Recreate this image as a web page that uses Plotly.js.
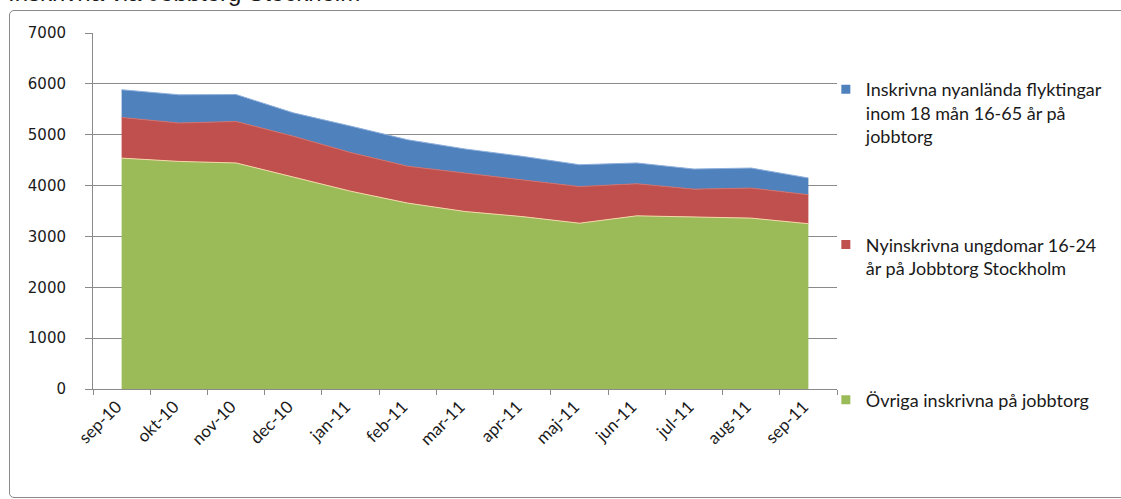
<!DOCTYPE html>
<html>
<head>
<meta charset="utf-8">
<script src="https://cdn.plot.ly/plotly-3.0.1.min.js"></script>
<style>
  html, body { margin: 0; padding: 0; background: #ffffff; }
  #wrap { position: relative; width: 1121px; height: 499px; overflow: hidden; }
  #chart { position: absolute; left: 0; top: 0; width: 1121px; height: 499px; }
  #frame { position: absolute; left: 9px; top: 10px; width: 1140px; height: 488px;
           border: 1px solid #8a8a8a; border-radius: 5px; pointer-events: none; box-sizing: border-box; }
</style>
</head>
<body>
<div id="wrap">
  <div id="chart"></div>
  <div id="frame"></div>
</div>
<script>
// ---- data ----
const months = ["sep-10","okt-10","nov-10","dec-10","jan-11","feb-11","mar-11","apr-11","maj-11","jun-11","jul-11","aug-11","sep-11"];
const ovriga = [4540, 4475, 4445, 4175, 3890, 3655, 3490, 3390, 3260, 3405, 3380, 3360, 3250];
const ungdomar = [800, 755, 815, 795, 760, 725, 755, 725, 720, 630, 550, 590, 570];
const flyktingar = [545, 555, 530, 460, 520, 520, 475, 460, 430, 410, 395, 395, 330];

const nameOvriga = "Övriga inskrivna på jobbtorg";
const nameUngdomar = "Nyinskrivna ungdomar 16-24<br>år på Jobbtorg Stockholm";
const nameFlykt = "Inskrivna nyanlända flyktingar<br>inom 18 mån 16-65 år på<br>jobbtorg";
const titleText = "Inskrivna via Jobbtorg Stockholm";

const colGreen = "#9BBB59", colRed = "#C0504D", colBlue = "#4F81BD";

function area(y, color, edge, group) {
  return {
    type: "scatter", mode: "lines", x: months, y: y,
    stackgroup: "one", fillcolor: color,
    line: { color: edge, width: 1 },
    showlegend: false, hoverinfo: "x+y", legendgroup: group
  };
}
function legendItem(name, color, group) {
  return {
    type: "scatter", mode: "markers", x: [null], y: [null],
    name: name,
    marker: { symbol: "square", size: 9, color: color },
    legendgroup: group, showlegend: true, hoverinfo: "skip"
  };
}

const traces = [
  area(ovriga, colGreen, "#f2d9a8", "g3"),
  area(ungdomar, colRed, "#d0706c", "g2"),
  area(flyktingar, colBlue, "#8fb0dc", "g1"),
  legendItem(nameFlykt, colBlue, "g1"),
  legendItem(nameUngdomar + "<br>&nbsp;", colRed, "g2"),
  legendItem(nameOvriga, colGreen, "g3")
];

const layout = {
  width: 1121, height: 499,
  margin: { l: 93, r: 284, t: 33, b: 110 },
  paper_bgcolor: "rgba(0,0,0,0)",
  plot_bgcolor: "rgba(0,0,0,0)",
  font: { family: "Lato, 'Liberation Sans', sans-serif", color: "#1a1a1a" },
  showlegend: true,
  legend: {
    x: 0.985, xanchor: "left", y: 0.893, yanchor: "top",
    traceorder: "grouped", tracegroupgap: 82, valign: "top",
    font: { family: "Lato, 'Liberation Sans', sans-serif", size: 18, color: "#1a1a1a" },
    bgcolor: "rgba(0,0,0,0)", itemwidth: 30, borderwidth: 0
  },
  xaxis: {
    type: "category", range: [-0.5, 12.5], fixedrange: true,
    tickson: "boundaries", ticks: "outside", ticklen: 5, tickcolor: "#8a8a8a",
    showline: true, linecolor: "#8a8a8a", linewidth: 1, showgrid: false,
    tickangle: -45, ticklabelshift: -5,
    tickfont: { family: "Lato, sans-serif", size: 17, color: "#1a1a1a" }
  },
  yaxis: {
    range: [0, 7000], dtick: 1000, fixedrange: true,
    showgrid: true, gridcolor: "#8a8a8a", gridwidth: 1,
    showline: true, linecolor: "#8a8a8a", linewidth: 1,
    ticks: "outside", ticklen: 7, tickcolor: "#8a8a8a",
    ticklabelstandoff: 16,
    tickfont: { family: "'DejaVu Sans', sans-serif", size: 15, color: "#1a1a1a" },
    zeroline: false
  },
  annotations: [{
    text: titleText,
    xref: "paper", yref: "paper", x: -0.117, y: 1.069,
    xanchor: "left", yanchor: "bottom", showarrow: false,
    font: { family: "'Liberation Sans', sans-serif", size: 24, color: "#1a1a1a" }
  }]
};

Plotly.newPlot("chart", traces, layout, { staticPlot: true });
</script>
</body>
</html>
